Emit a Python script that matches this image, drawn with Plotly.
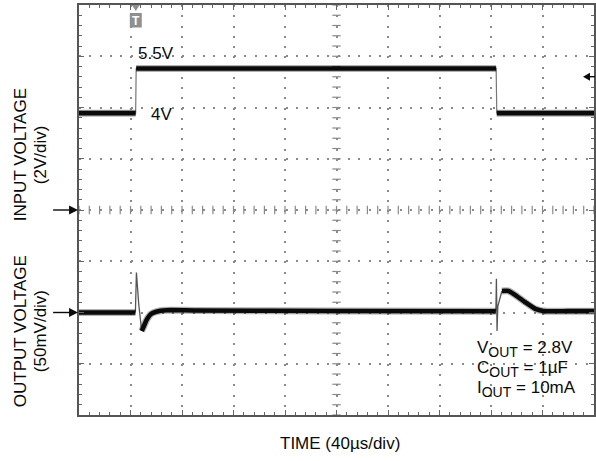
import numpy as np
import plotly.graph_objects as go

# ---------------- data ----------------
# time in microseconds from left edge of the screen (40 us/div, 10 div)
in_t = [0, 44.0, 44.4, 324.0, 324.5, 400]
in_v = [3.78, 3.78, 5.52, 5.52, 3.78, 3.78]          # volts, 2 V/div, ground at div 4

out_t = [0, 43.8, None, 48.7, 50.5, 52.2, 55.9, 60.0, 67.8, 90, 200, 323.8,
         None, 328.5, 333.5, 338.9, 346.6, 354.4, 360.5, 380, 400]
out_mv = [0, 0, None, -18, -13, -8, -1.5, 0.8, 2.2, 2.0, 1.5, 1.2,
          None, 21, 21, 17, 10, 3.5, 1.5, 1.3, 1.3]   # mV deviation, 50 mV/div, ground at div 2

spike1_t = [43.8, 44.6, 46.4, 48.7]
spike1_mv = [0, 39, 8, -18]
spike2_t = [323.8, 324.2, 324.7, 325.3, 328.5]
spike2_mv = [1.2, 33, -18, 6, 21]

IN_GND_DIV, IN_V_PER_DIV = 4.0, 2.0
OUT_GND_DIV, OUT_MV_PER_DIV = 2.0, 50.0

# ---------------- geometry helpers ----------------
W, H = 596, 461
X0, PW = 79, 517
Y0, PH = 5, 410
def tx(px):
    return (px - X0) / PW * 400.0
def dy(py_):
    return (Y0 + PH - py_) / PH * 8.0
def pxp(pix):
    return (pix - X0) / PW
def py(pix):
    return (Y0 + PH - pix) / PH

def in_div(v):
    return [None if a is None else IN_GND_DIV + a / IN_V_PER_DIV for a in v]
def out_div(v):
    return [None if a is None else OUT_GND_DIV + a / OUT_MV_PER_DIV for a in v]

FONT = "Liberation Sans, Arial, sans-serif"
INK = "#0a0a0a"
GRID = "#8a8a8a"
FS = 17

fig = go.Figure()

# center cross (graticule center lines with sub-ticks)
ct = np.arange(0, 400.01, 8)
cd = np.arange(0, 8.01, 0.2)
fig.add_trace(go.Scatter(x=ct, y=[4.0] * len(ct), mode="markers",
                         marker=dict(symbol="line-ns", size=6, line=dict(width=1.2, color=GRID)),
                         hoverinfo="skip", showlegend=False))
fig.add_trace(go.Scatter(x=[200.0] * len(cd), y=cd, mode="markers",
                         marker=dict(symbol="line-ew", size=6, line=dict(width=1.2, color=GRID)),
                         hoverinfo="skip", showlegend=False))

# input voltage: thin edges, thick flat levels
yin = in_div(in_v)
fig.add_trace(go.Scatter(x=in_t, y=yin, mode="lines",
                         line=dict(color="#777777", width=1.2), showlegend=False))
seg_x, seg_y = [], []
for i in range(0, len(in_t), 2):
    seg_x += [in_t[i], in_t[i + 1], None]
    seg_y += [yin[i], yin[i + 1], None]
fig.add_trace(go.Scatter(x=seg_x, y=seg_y, mode="lines",
                         line=dict(color="rgba(0,0,0,0.3)", width=7), showlegend=False))
fig.add_trace(go.Scatter(x=seg_x, y=seg_y, mode="lines",
                         line=dict(color=INK, width=4.6), showlegend=False))

# output voltage
yout = out_div(out_mv)
for sx, sy in ((spike1_t, spike1_mv), (spike2_t, spike2_mv)):
    fig.add_trace(go.Scatter(x=sx, y=out_div(sy), mode="lines",
                             line=dict(color="#555555", width=1.3), showlegend=False))
fig.add_trace(go.Scatter(x=out_t, y=yout, mode="lines", connectgaps=False,
                         line=dict(color="rgba(0,0,0,0.3)", width=7, shape="spline", smoothing=0.6),
                         showlegend=False))
fig.add_trace(go.Scatter(x=out_t, y=yout, mode="lines", connectgaps=False,
                         line=dict(color=INK, width=4.6, shape="spline", smoothing=0.6),
                         showlegend=False))

# ---------------- annotations ----------------
ann = []
def txt(x, y, s, size=FS, xanchor="left", yanchor="middle", textangle=0, xref="x", yref="y", color=INK):
    ann.append(dict(x=x, y=y, xref=xref, yref=yref, text=s, showarrow=False,
                    xanchor=xanchor, yanchor=yanchor, textangle=textangle,
                    font=dict(family=FONT, size=size, color=color)))

txt(tx(136), dy(53), "5.5V")
txt(tx(149), dy(114), "4V")

sub = "<sub><span style='font-size:14px'>OUT</span></sub>"
txt(tx(477), dy(349), "V" + sub + " = 2.8V")
txt(tx(477), dy(369), "C" + sub + " = 1µF")
txt(tx(477), dy(389), "I" + sub + " = 10mA")

txt(pxp(341), py(443), "TIME (40µs/div)", xanchor="center", xref="paper", yref="paper")
txt(pxp(20), py(155), "INPUT VOLTAGE", xanchor="center", textangle=-90, xref="paper", yref="paper")
txt(pxp(40), py(155), "(2V/div)", xanchor="center", textangle=-90, xref="paper", yref="paper")
txt(pxp(20), py(331), "OUTPUT VOLTAGE", xanchor="center", textangle=-90, xref="paper", yref="paper")
txt(pxp(40), py(331), "(50mV/div)", xanchor="center", textangle=-90, xref="paper", yref="paper")

# trigger "T" glyph
txt(tx(136), dy(20.5), "<b>T</b>", size=12, xanchor="center", color="white")

shapes = [
    dict(type="rect", xref="x", yref="y", x0=tx(130), x1=tx(142), y0=dy(27.5), y1=dy(13),
         fillcolor="#8f8f8f", line=dict(width=0), layer="above"),
    dict(type="path", xref="x", yref="y",
         path=f"M {tx(132)} {dy(5)} L {tx(140)} {dy(5)} L {tx(136)} {dy(11)} Z",
         fillcolor="#8f8f8f", line=dict(width=0), layer="above"),
]

# ground reference arrows at left (paper x, data y)
for gdiv in (IN_GND_DIV, OUT_GND_DIV):
    ypix = Y0 + PH - gdiv / 8.0 * PH
    shapes.append(dict(type="line", xref="paper", yref="paper", x0=pxp(53), x1=pxp(70),
                       y0=py(ypix), y1=py(ypix), line=dict(color=INK, width=1.4)))
    shapes.append(dict(type="path", xref="paper", yref="paper",
                       path=f"M {pxp(69)} {py(ypix - 4.5)} L {pxp(78)} {py(ypix)} L {pxp(69)} {py(ypix + 4.5)} Z",
                       fillcolor=INK, line=dict(width=0)))
# trigger level arrow at right
ty = 76.7
shapes.append(dict(type="line", xref="paper", yref="paper", x0=pxp(590), x1=pxp(597),
                   y0=py(ty), y1=py(ty), line=dict(color=INK, width=1.4)))
shapes.append(dict(type="path", xref="paper", yref="paper",
                   path=f"M {pxp(592)} {py(ty - 4)} L {pxp(585)} {py(ty)} L {pxp(592)} {py(ty + 4)} Z",
                   fillcolor=INK, line=dict(width=0)))

fig.update_layout(
    width=W, height=H,
    margin=dict(l=X0, r=W - X0 - PW, t=Y0, b=H - Y0 - PH),
    paper_bgcolor="white", plot_bgcolor="white",
    showlegend=False,
    annotations=ann,
    shapes=shapes,
    xaxis=dict(range=[0, 400], dtick=40, tick0=0, showgrid=True, gridcolor=GRID, gridwidth=1.5,
               griddash="2px,8.25px", zeroline=False, showticklabels=False,
               showline=True, linecolor="#555555", linewidth=2, mirror="allticks",
               ticks="inside", ticklen=5, tickcolor="#666666", tickwidth=1,
               minor=dict(dtick=8, ticks="inside", ticklen=3, tickcolor="#666666", showgrid=False),
               fixedrange=True),
    yaxis=dict(range=[0, 8], dtick=1, tick0=0, showgrid=True, gridcolor=GRID, gridwidth=1.5,
               griddash="2px,8.34px", zeroline=False, showticklabels=False,
               showline=True, linecolor="#555555", linewidth=2, mirror="allticks",
               ticks="inside", ticklen=5, tickcolor="#666666", tickwidth=1,
               minor=dict(dtick=0.2, ticks="inside", ticklen=3, tickcolor="#666666", showgrid=False),
               fixedrange=True),
)

fig.write_html("out.html", config={"displayModeBar": False},
               post_script="document.body.style.margin='0';document.body.style.overflow='hidden';")
